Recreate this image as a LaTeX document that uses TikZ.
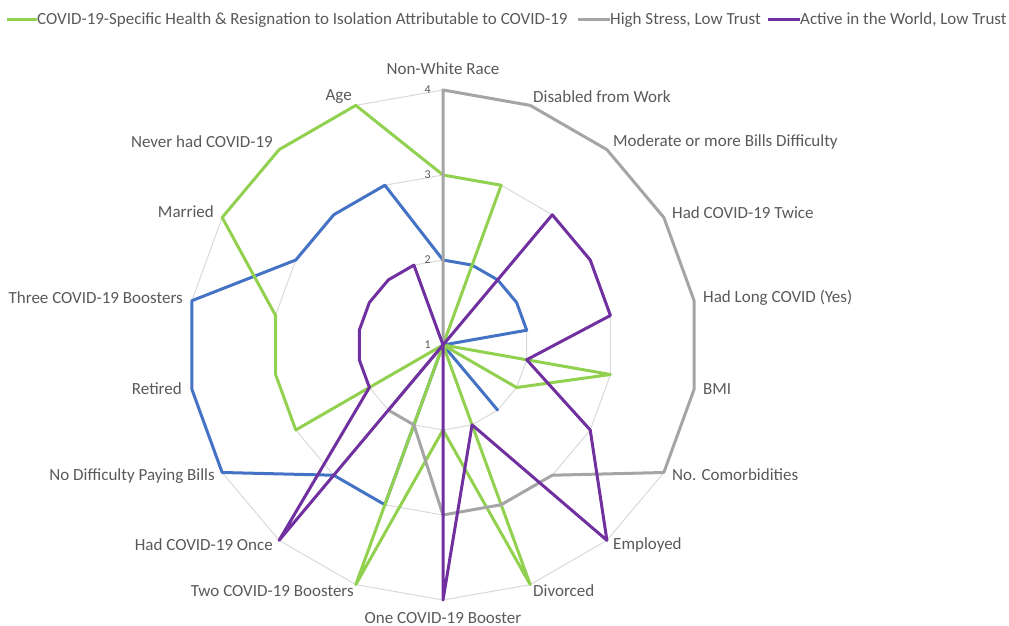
\documentclass[tikz,border=0pt]{standalone}
\usepackage{fontspec}
\setmainfont{Carlito}
\definecolor{sgreen}{HTML}{92D050}
\definecolor{sblue}{HTML}{4472C4}
\definecolor{sgray}{HTML}{A5A5A5}
\definecolor{spurple}{HTML}{7030A0}
\definecolor{txt}{HTML}{595959}
\definecolor{gridc}{HTML}{D9D9D9}
\begin{document}
\begin{tikzpicture}[x=1pt,y=1pt,
  lbl/.style={text=txt,font=\fontsize{17}{19}\selectfont,inner sep=0pt},
  lgd/.style={text=txt,font=\fontsize{17}{19}\selectfont,inner sep=0pt,anchor=west},
  tick/.style={text=txt,font=\fontsize{12}{13}\selectfont,inner sep=0pt,anchor=east},
  ring/.style={draw=gridc,line width=1pt},
  series/.style={line width=3pt,line join=round,line cap=round}]
\useasboundingbox (0,0) rectangle (1009,626);
\begin{scope}[shift={(443,281)}]
  \foreach \r in {85,170,255} {
    \draw[ring] (90:\r) \foreach \k in {1,...,17}{ -- ({90-20*\k}:\r)} -- cycle;
  }
  \node[tick] (t1) at (-12,0) {1};
  \node[tick] (t2) at (-12,85) {2};
  \node[tick] (t3) at (-12,170) {3};
  \node[tick] (t4) at (-12,255) {4};
  \foreach \v [count=\i from 0] in {2,2,2,2,2,1,1,2,1,1,3,3,4,4,4,3,3,3}
    \coordinate (b\i) at ({90-20*\i}:{(\v-1)*85});
  \foreach \v [count=\i from 0] in {3,3,1,1,1,3,2,1,4,2,4,1,3,3,3,4,4,4}
    \coordinate (g\i) at ({90-20*\i}:{(\v-1)*85});
  \foreach \v [count=\i from 0] in {4,4,4,4,4,4,4,3,3,3,2,2,1,1,1,1,1,1}
    \coordinate (h\i) at ({90-20*\i}:{(\v-1)*85});
  \foreach \v [count=\i from 0] in {1,1,3,3,3,2,3,4,2,4,1,4,2,2,2,2,2,2}
    \coordinate (p\i) at ({90-20*\i}:{(\v-1)*85});
  \draw[series,sblue] (b0) \foreach \i in {1,...,17}{ -- (b\i)} -- cycle;
  \draw[series,sgreen] (g0) \foreach \i in {1,...,17}{ -- (g\i)} -- cycle;
  \draw[series,sgray] (h0) \foreach \i in {1,...,17}{ -- (h\i)} -- cycle;
  \draw[series,spurple] (p0) \foreach \i in {1,...,17}{ -- (p\i)} -- cycle;
\end{scope}
% axis labels
\node[lbl] (a0) at (443,557) {Non-White Race};
\node[lbl,anchor=west] (a1) at (533,529) {Disabled from Work};
\node[lbl,anchor=west] (a2) at (613,484) {Moderate or more Bills Difficulty};
\node[lbl,anchor=west] (a3) at (672,413) {Had COVID-19 Twice};
\node[lbl,anchor=west] (a4) at (703,328) {Had Long COVID (Yes)};
\node[lbl,anchor=west] (a5) at (703,237) {BMI};
\node[lbl,anchor=west] (a6) at (672,151) {No. Comorbidities};
\node[lbl,anchor=west] (a7) at (613,81) {Employed};
\node[lbl,anchor=west] (a8) at (533,35) {Divorced};
\node[lbl] (a9) at (443,8) {One COVID-19 Booster};
\node[lbl,anchor=east] (a10) at (354,35) {Two COVID-19 Boosters};
\node[lbl,anchor=east] (a11) at (273,81) {Had COVID-19 Once};
\node[lbl,anchor=east] (a12) at (215,150) {No Difficulty Paying Bills};
\node[lbl,anchor=east] (a13) at (182,237) {Retired};
\node[lbl,anchor=east] (a14) at (183,328) {Three COVID-19 Boosters};
\node[lbl,anchor=east] (a15) at (214,414) {Married};
\node[lbl,anchor=east] (a16) at (273,484) {Never had COVID-19};
\node[lbl,anchor=east] (a17) at (352,529) {Age};
% legend
\node[lgd] (l1) at (37,606) {COVID-19-Specific Health \& Resignation to Isolation Attributable to COVID-19};
\node[lgd] (l2) at (610,606) {High Stress, Low Trust};
\node[lgd] (l3) at (800,606) {Active in the World, Low Trust};
\coordinate (m1) at (7,606);
\coordinate (m2) at (578,606);
\coordinate (m3) at (768,606);
\draw[series,sgreen,line cap=butt] (m1) -- (l1.west);
\draw[series,sgray,line cap=butt] (m2) -- (l2.west);
\draw[series,spurple,line cap=butt] (m3) -- (l3.west);
\end{tikzpicture}
\end{document}
